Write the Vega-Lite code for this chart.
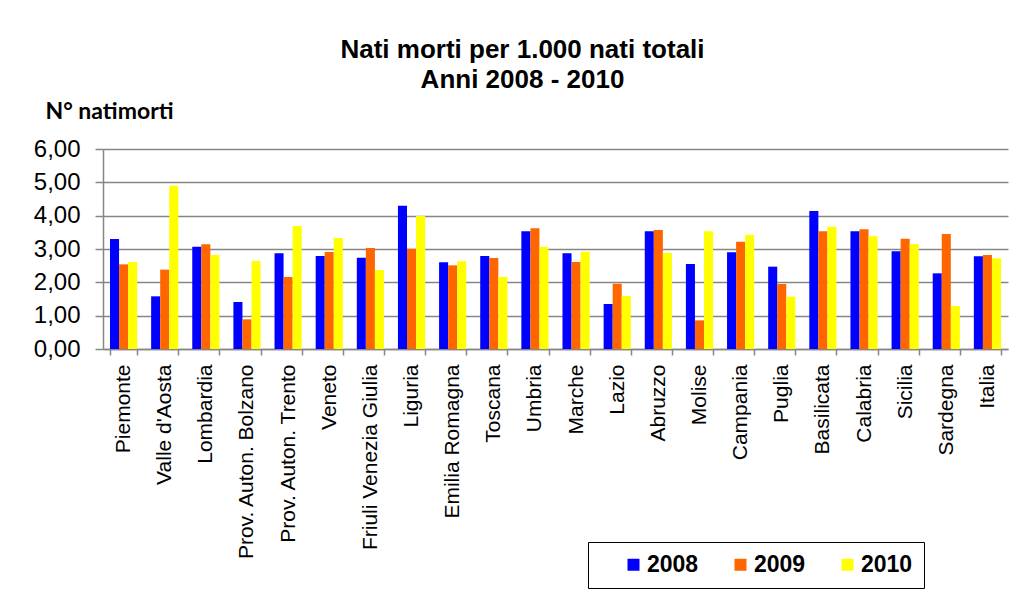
{
  "$schema": "https://vega.github.io/schema/vega-lite/v6.json",
  "width": 905,
  "height": 200,
  "autosize": {"type": "none"},
  "padding": {"left": 103, "top": 149, "right": 9, "bottom": 250},
  "background": "white",
  "title": {
    "text": ["Nati morti per 1.000 nati totali", "Anni 2008 - 2010"],
    "font": "Liberation Sans",
    "fontSize": 26,
    "fontWeight": "bold",
    "color": "black",
    "lineHeight": 30,
    "anchor": "middle",
    "dx": -33,
    "offset": 7
  },
  "data": {
    "values": [
      {"regione": "Piemonte", "2008": 3.30, "2009": 2.54, "2010": 2.61},
      {"regione": "Valle d'Aosta", "2008": 1.58, "2009": 2.38, "2010": 4.90},
      {"regione": "Lombardia", "2008": 3.07, "2009": 3.14, "2010": 2.82},
      {"regione": "Prov. Auton. Bolzano", "2008": 1.41, "2009": 0.89, "2010": 2.64},
      {"regione": "Prov. Auton. Trento", "2008": 2.87, "2009": 2.16, "2010": 3.69},
      {"regione": "Veneto", "2008": 2.79, "2009": 2.91, "2010": 3.33},
      {"regione": "Friuli Venezia Giulia", "2008": 2.74, "2009": 3.03, "2010": 2.37},
      {"regione": "Liguria", "2008": 4.30, "2009": 3.01, "2010": 3.99},
      {"regione": "Emilia Romagna", "2008": 2.60, "2009": 2.51, "2010": 2.63},
      {"regione": "Toscana", "2008": 2.79, "2009": 2.73, "2010": 2.16},
      {"regione": "Umbria", "2008": 3.53, "2009": 3.62, "2010": 3.06},
      {"regione": "Marche", "2008": 2.87, "2009": 2.61, "2010": 2.92},
      {"regione": "Lazio", "2008": 1.35, "2009": 1.96, "2010": 1.59},
      {"regione": "Abruzzo", "2008": 3.53, "2009": 3.57, "2010": 2.88},
      {"regione": "Molise", "2008": 2.55, "2009": 0.86, "2010": 3.53},
      {"regione": "Campania", "2008": 2.90, "2009": 3.22, "2010": 3.42},
      {"regione": "Puglia", "2008": 2.47, "2009": 1.95, "2010": 1.57},
      {"regione": "Basilicata", "2008": 4.14, "2009": 3.53, "2010": 3.67},
      {"regione": "Calabria", "2008": 3.53, "2009": 3.59, "2010": 3.38},
      {"regione": "Sicilia", "2008": 2.93, "2009": 3.31, "2010": 3.15},
      {"regione": "Sardegna", "2008": 2.27, "2009": 3.45, "2010": 1.29},
      {"regione": "Italia", "2008": 2.78, "2009": 2.82, "2010": 2.72}
    ]
  },
  "transform": [
    {"fold": ["2008", "2009", "2010"], "as": ["anno", "valore"]}
  ],
  "mark": {"type": "bar"},
  "encoding": {
    "x": {
      "field": "regione",
      "type": "nominal",
      "sort": null,
      "scale": {"paddingInner": 0.34, "paddingOuter": 0.17},
      "axis": {
        "title": null,
        "labelAngle": -90,
        "labelAlign": "right",
        "labelBaseline": "middle",
        "labelFont": "Liberation Sans",
        "labelFontSize": 21,
        "labelColor": "black",
        "labelPadding": 9,
        "labelLimit": 400,
        "tickBand": "extent",
        "tickSize": 6,
        "tickColor": "#868686",
        "tickWidth": 1.5,
        "domainColor": "#868686",
        "domainWidth": 1.5,
        "grid": false
      }
    },
    "xOffset": {"field": "anno", "type": "nominal", "sort": ["2008", "2009", "2010"]},
    "y": {
      "field": "valore",
      "type": "quantitative",
      "scale": {"domain": [0, 6], "nice": false},
      "axis": {
        "values": [0, 1, 2, 3, 4, 5, 6],
        "labelExpr": "replace(format(datum.value, '.2f'), '.', ',')",
        "labelFont": "Liberation Sans",
        "labelFontSize": 24,
        "labelColor": "black",
        "labelPadding": 15,
        "tickSize": 8,
        "tickColor": "#868686",
        "tickWidth": 1.5,
        "domainColor": "#868686",
        "domainWidth": 1.5,
        "gridColor": "#868686",
        "gridWidth": 1.5,
        "title": "N° natimorti",
        "titleAngle": 0,
        "titleAlign": "left",
        "titleBaseline": "alphabetic",
        "titleX": -58,
        "titleY": -31,
        "titleFont": "Lato",
        "titleFontSize": 23,
        "titleFontWeight": "bold",
        "titleColor": "black"
      }
    },
    "color": {
      "field": "anno",
      "type": "nominal",
      "scale": {"domain": ["2008", "2009", "2010"], "range": ["#0000FF", "#FF6600", "#FFFF00"]},
      "legend": {
        "title": null,
        "orient": "none",
        "legendX": 485,
        "legendY": 393,
        "direction": "horizontal",
        "strokeColor": "black",
        "padding": 11,
        "symbolType": "square",
        "symbolSize": 144,
        "symbolStrokeWidth": 0,
        "symbolOffset": 23,
        "columnPadding": 7,
        "labelOffset": 2,
        "labelFont": "Liberation Sans",
        "labelFontSize": 23,
        "labelFontWeight": "bold",
        "labelColor": "black"
      }
    }
  },
  "config": {
    "view": {"stroke": null}
  }
}
